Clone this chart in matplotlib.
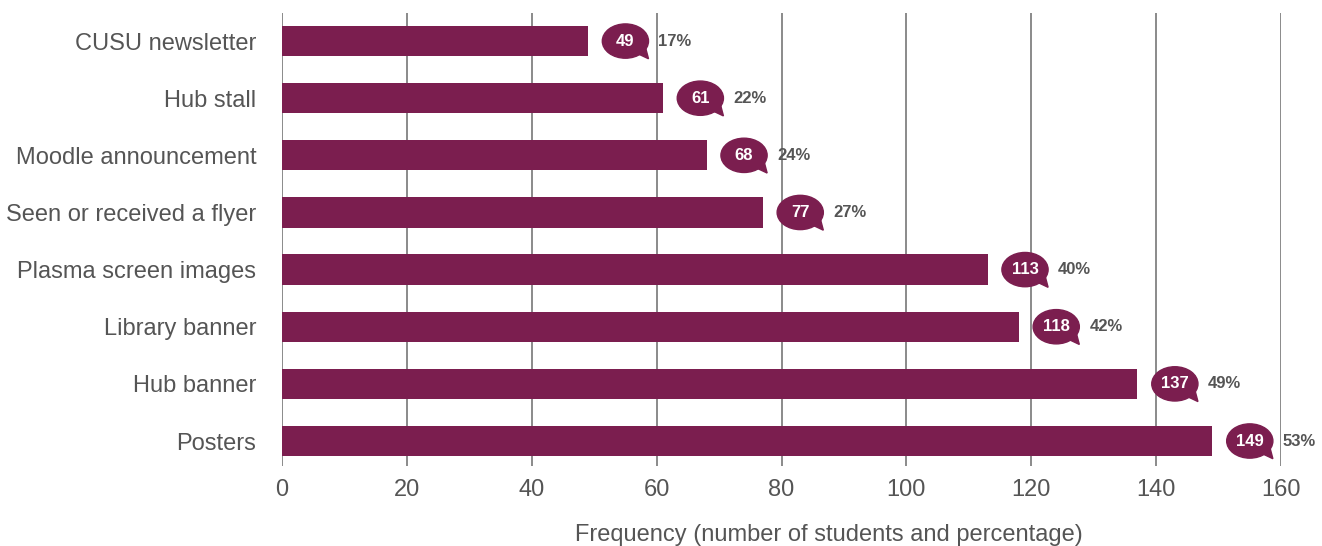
import matplotlib.pyplot as plt
from matplotlib.patches import Ellipse, Polygon

plt.rcParams['font.family'] = ['Liberation Sans', 'DejaVu Sans']

categories = ["CUSU newsletter", "Hub stall", "Moodle announcement",
              "Seen or received a flyer", "Plasma screen images",
              "Library banner", "Hub banner", "Posters"]
counts = [49, 61, 68, 77, 113, 118, 137, 149]
percents = ["17%", "22%", "24%", "27%", "40%", "42%", "49%", "53%"]

bar_col = "#7b1e4f"
grey = "#555555"

fig = plt.figure(figsize=(13.22, 5.46), dpi=100)
ax = fig.add_axes([282 / 1322, 1 - 466 / 546, (1281 - 282) / 1322, (466 - 12.5) / 546])

ypos = list(range(len(categories)))
ax.barh(ypos, counts, height=0.53, color=bar_col, zorder=3)
ax.set_xlim(0, 160)
ax.set_ylim(7 + 25 / 57.14, -0.5)

ax.set_xticks(range(0, 161, 20))
ax.xaxis.grid(True, color="#777777", linewidth=1.2, zorder=0)
ax.tick_params(axis="x", length=0, labelsize=17, labelcolor=grey, pad=9)
ax.tick_params(axis="y", length=0, labelsize=17, labelcolor=grey, pad=18.5)
ax.set_yticks(ypos)
ax.set_yticklabels(categories)
for s in ax.spines.values():
    s.set_visible(False)

# speech bubbles with counts, percentage next to them
for y, c, p in zip(ypos, counts, percents):
    cx = c + 6.0
    tail = Polygon([(cx + 0.6, y + 0.15), (cx + 3.0, y + 0.02), (cx + 3.7, y + 0.31)],
                   closed=True, color=bar_col, zorder=4, clip_on=False)
    ax.add_patch(tail)
    ax.add_patch(Ellipse((cx, y), 7.4, 0.6, color=bar_col, zorder=4, clip_on=False))
    ax.text(cx, y, str(c), color="white", fontsize=12, fontweight="bold",
            ha="center", va="center", zorder=5)
    ax.text(c + 11.3, y, p, color=grey, fontsize=12, fontweight="bold",
            ha="left", va="center", zorder=5, clip_on=False)

fig.text(829 / 1322, 1 - 535 / 546, "Frequency (number of students and percentage)",
         ha="center", va="center", fontsize=17, color=grey)

fig.savefig("out.png", dpi=100)
